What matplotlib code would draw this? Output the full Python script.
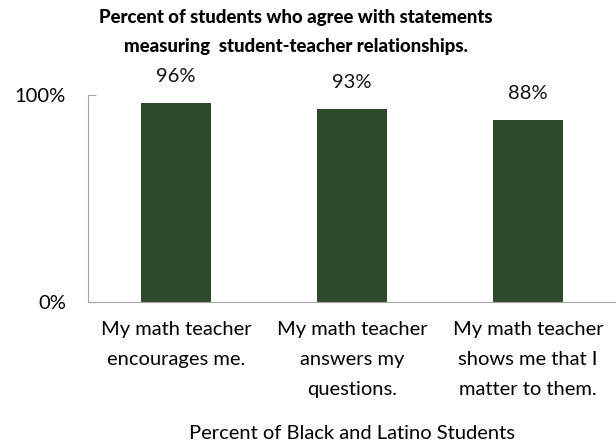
import matplotlib
matplotlib.use("Agg")
import matplotlib.pyplot as plt

categories = ["My math teacher\nencourages me.",
              "My math teacher\nanswers my\nquestions.",
              "My math teacher\nshows me that I\nmatter to them."]
values = [0.96, 0.93, 0.88]
value_labels = ["96%", "93%", "88%"]
ytick_vals = [0, 1]
ytick_labels = ["0%", "100%"]

bar_color = "#2e4a2c"
spine_color = "#a6a6a6"

plt.rcParams['font.family'] = ['Lato', 'DejaVu Sans']

fig = plt.figure(figsize=(6.16, 4.44), dpi=100)
ax = fig.add_axes([0.143, 0.32, 0.857, 0.466])

x = range(len(categories))
ax.bar(x, values, width=0.4, color=bar_color)

for xi, v, lab in zip(x, values, value_labels):
    ax.annotate(lab, (xi, v), xytext=(0, 13), textcoords="offset points",
                ha="center", va="bottom", fontsize=14.5, color="#111111")

ax.set_xlim(-0.5, 2.5)
ax.set_ylim(0, 1)
ax.set_yticks(ytick_vals)
ax.set_yticklabels(ytick_labels, fontsize=14.5)
ax.set_xticks(list(x))
ax.set_xticklabels(categories, fontsize=14.5, linespacing=1.9)
ax.tick_params(axis="x", length=0, pad=14)
ax.tick_params(axis="y", direction="in", length=6, color=spine_color, pad=16)

for s in ["top", "right"]:
    ax.spines[s].set_visible(False)
for s in ["left", "bottom"]:
    ax.spines[s].set_color(spine_color)

ax.set_xlabel("Percent of Black and Latino Students", fontsize=14.5, labelpad=20)

fig.text(0.48, 0.98, "Percent of students who agree with statements\nmeasuring  student-teacher relationships.",
         ha="center", va="top", fontsize=13.4, fontweight="black", linespacing=1.85)

fig.savefig("out.png", dpi=100)
